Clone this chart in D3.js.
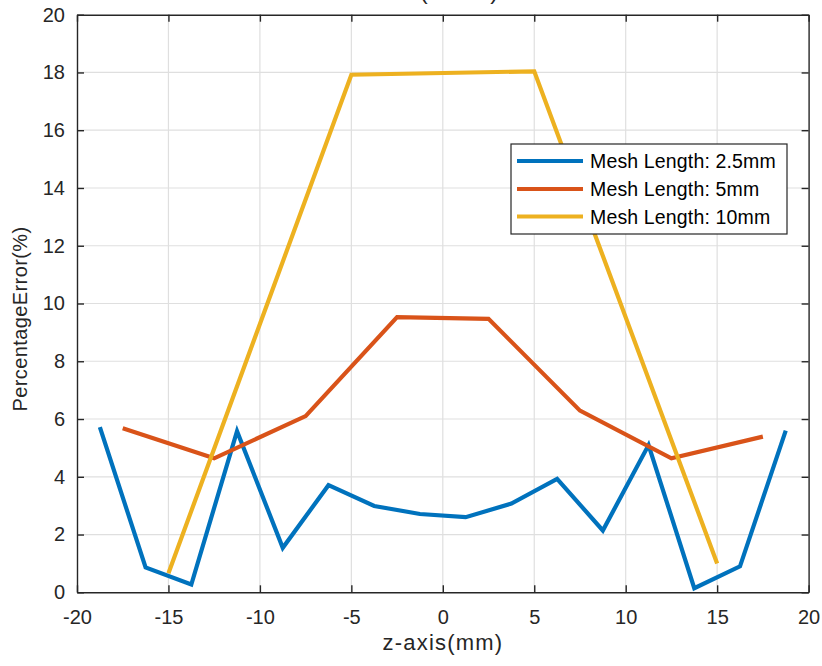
<!DOCTYPE html>
<html>
<head>
<meta charset="utf-8">
<script src="https://cdn.jsdelivr.net/npm/d3@7"></script>
<style>
  html, body { margin: 0; padding: 0; background: #fff; }
  svg { display: block; font-family: "Liberation Sans", Arial, Helvetica, sans-serif; }
</style>
</head>
<body>
<script>
// Percentage error along the z-axis for three mesh lengths
const zFine   = [-18.75, -16.25, -13.75, -11.25, -8.75, -6.25, -3.75, -1.25, 1.25, 3.75, 6.25, 8.75, 11.25, 13.75, 16.25, 18.75];
const errFine = [5.72, 0.86, 0.27, 5.58, 1.54, 3.71, 2.99, 2.71, 2.6, 3.07, 3.93, 2.14, 5.1, 0.14, 0.9, 5.6];

const zMid    = [-17.5, -12.5, -7.5, -2.5, 2.5, 7.5, 12.5, 17.5];
const errMid  = [5.68, 4.64, 6.1, 9.53, 9.47, 6.29, 4.64, 5.39];

const zCoarse   = [-15, -5, 5, 15];
const errCoarse = [0.66, 17.92, 18.04, 1.0];

const seriesNames  = ["Mesh Length: 2.5mm", "Mesh Length: 5mm", "Mesh Length: 10mm"];
const seriesColors = ["#0072BD", "#D95319", "#EDB120"];

const xTicks = [-20, -15, -10, -5, 0, 5, 10, 15, 20];
const yTicks = [0, 2, 4, 6, 8, 10, 12, 14, 16, 18, 20];

const W = 822, H = 666;
const plotL = 77, plotR = 808.6, plotT = 14.7, plotB = 592.3;

const svg = d3.select("body").append("svg").attr("width", W).attr("height", H);

const x = d3.scaleLinear().domain([-20, 20]).range([plotL, plotR]);
const y = d3.scaleLinear().domain([0, 20]).range([plotB, plotT]);

const axisColor = "#262626";
const tickLen = 7;

// grid
const grid = svg.append("g");
grid.selectAll("line.gx").data(xTicks.slice(1, -1)).join("line")
  .attr("x1", d => x(d)).attr("x2", d => x(d))
  .attr("y1", plotT).attr("y2", plotB)
  .attr("stroke", "#dfdfdf").attr("stroke-width", 1.2);
grid.selectAll("line.gy").data(yTicks.slice(1, -1)).join("line")
  .attr("x1", plotL).attr("x2", plotR)
  .attr("y1", d => y(d)).attr("y2", d => y(d))
  .attr("stroke", "#dfdfdf").attr("stroke-width", 1.2);

// series
const line = d3.line().x(d => x(d[0])).y(d => y(d[1]));
const series = [
  d3.zip(zFine, errFine),
  d3.zip(zMid, errMid),
  d3.zip(zCoarse, errCoarse)
];
series.forEach((pts, i) => {
  svg.append("path").datum(pts)
    .attr("d", line)
    .attr("fill", "none")
    .attr("stroke", seriesColors[i])
    .attr("stroke-width", 4.2)
    .attr("stroke-linejoin", "miter");
});

// axes: bottom/left with labels, top/right as plain tick frames (ticks inward)
const fontSize = 20;
const plain = d => String(d);
const bottomAxis = d3.axisBottom(x).tickValues(xTicks).tickFormat(plain).tickSizeInner(-tickLen).tickSizeOuter(0).tickPadding(17.5);
const leftAxis = d3.axisLeft(y).tickValues(yTicks).tickFormat(plain).tickSizeInner(-tickLen).tickSizeOuter(0).tickPadding(12);
const topAxis = d3.axisTop(x).tickValues(xTicks).tickSizeInner(-tickLen).tickSizeOuter(0).tickFormat("");
const rightAxis = d3.axisRight(y).tickValues(yTicks).tickSizeInner(-tickLen).tickSizeOuter(0).tickFormat("");

function styleAxis(g) {
  g.attr("font-family", null).attr("font-size", null);
  g.select(".domain").attr("stroke", axisColor).attr("stroke-width", 1.4);
  g.selectAll(".tick line").attr("stroke", axisColor).attr("stroke-width", 1.4);
  g.selectAll(".tick text").attr("fill", axisColor).style("font-size", fontSize + "px");
}

svg.append("g").attr("transform", `translate(0,${plotB})`).call(bottomAxis).call(styleAxis);
svg.append("g").attr("transform", `translate(${plotL},0)`).call(leftAxis).call(styleAxis);
svg.append("g").attr("transform", `translate(0,${plotT})`).call(topAxis).call(styleAxis);
svg.append("g").attr("transform", `translate(${plotR},0)`).call(rightAxis).call(styleAxis);

// axis labels
svg.append("text")
  .attr("x", 443).attr("y", 650)
  .attr("text-anchor", "middle")
  .attr("fill", axisColor)
  .style("font-size", "22px")
  .style("letter-spacing", "1.2px")
  .text("z-axis(mm)");

svg.append("text")
  .attr("transform", "translate(27,319) rotate(-90)")
  .attr("text-anchor", "middle")
  .attr("fill", axisColor)
  .style("font-size", "20px")
  .style("letter-spacing", "0.4px")
  .text("PercentageError(%)");

// title, sitting above the top edge so only its lowest strokes show
svg.append("text")
  .attr("x", 459).attr("y", -1.5)
  .attr("text-anchor", "middle")
  .attr("fill", axisColor)
  .style("font-size", "24px")
  .text("(z-axis)");

// legend
const lg = svg.append("g");
const lgX = 511, lgY = 144, lgW = 276, lgH = 90;
lg.append("rect")
  .attr("x", lgX).attr("y", lgY).attr("width", lgW).attr("height", lgH)
  .attr("fill", "#fff").attr("stroke", axisColor).attr("stroke-width", 1.2);
const rowY = [161, 189, 216.5];
seriesNames.forEach((name, i) => {
  lg.append("line")
    .attr("x1", lgX + 6).attr("x2", lgX + 72)
    .attr("y1", rowY[i]).attr("y2", rowY[i])
    .attr("stroke", seriesColors[i]).attr("stroke-width", 4.2);
  lg.append("text")
    .attr("x", lgX + 79).attr("y", rowY[i] + 7)
    .attr("fill", "#000")
    .style("font-size", "19.5px")
    .style("letter-spacing", "0.15px")
    .text(name);
});
</script>
</body>
</html>
